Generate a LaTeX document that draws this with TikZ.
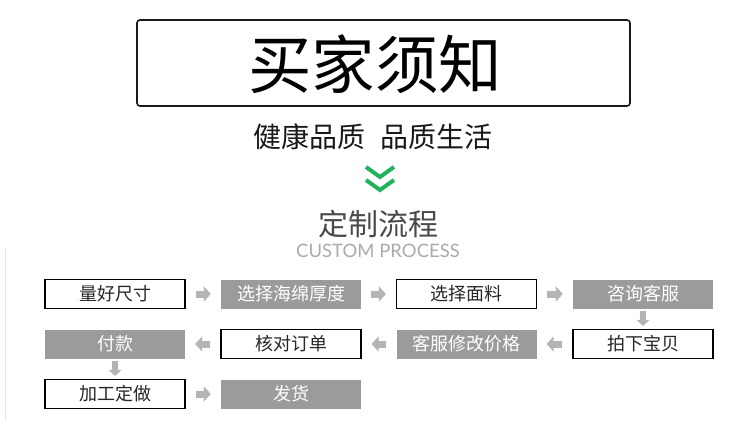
\documentclass[tikz,border=0pt]{standalone}
\usepackage{fontspec}
\newfontfamily\cjk{Noto Sans CJK SC}
\newfontfamily\latfont{Lato}
\usetikzlibrary{arrows.meta}
\definecolor{boxgray}{HTML}{9B9B9B}
\definecolor{arrgray}{HTML}{B4B4B4}
\definecolor{chevgreen}{HTML}{22B35A}
\definecolor{titlegray}{HTML}{4A4A4A}
\definecolor{subgray}{HTML}{ABABAB}
\definecolor{edgegray}{HTML}{E6E6E6}
\begin{document}
\begin{tikzpicture}[x=1pt,y=-1pt,
  wbox/.style={draw=black,line width=1.2pt,fill=white,minimum width=140pt,minimum height=29pt,inner sep=0pt,font=\cjk\fontsize{18}{18}\selectfont,text=black!85},
  gbox/.style={fill=boxgray,minimum width=140pt,minimum height=29pt,inner sep=0pt,font=\cjk\fontsize{18}{18}\selectfont,text=white},
  harr/.style={draw=arrgray,line width=7pt,-{Triangle[length=7pt,width=15pt]},shorten <=10pt,shorten >=10pt},
  varr/.style={draw=arrgray,line width=6pt,-{Triangle[length=6pt,width=13pt]},shorten <=2pt,shorten >=3pt}]
\useasboundingbox[fill=white] (0,0) rectangle (750,431);
% left faint line
\draw[edgegray,line width=1.2pt] (5.5,248) coordinate (ltop) -- (5.5,421) coordinate (lbot);
% title
\node[draw=black!90,line width=1.6pt,rounded corners=3pt,minimum width=493pt,minimum height=86pt,inner sep=0pt] (title) at (383.5,63) {};
\node[font=\cjk\fontsize{63.5}{63.5}\selectfont,text=black] (titletext) at (375,64) {买家须知};
\node[font=\cjk\fontsize{28}{28}\selectfont,text=black!90] (slogan) at (373,137) {健康品质\hspace{16pt}品质生活};
% chevrons
\draw[chevgreen,line width=4pt] (366,167) coordinate (c1a) -- (380,177) coordinate (c1b) -- (394,167) coordinate (c1c);
\draw[chevgreen,line width=4pt] (366,180) coordinate (c2a) -- (380,190) coordinate (c2b) -- (394,180) coordinate (c2c);
\node[font=\cjk\fontsize{30}{30}\selectfont,text=titlegray] (proc) at (378,224) {定制流程};
\node[font=\latfont\fontsize{18.5}{18.5}\selectfont,text=subgray] (procen) at (378,251) {CUSTOM PROCESS};
% row 1
\node[wbox] (b1) at (115,294) {量好尺寸};
\node[gbox] (b2) at (291,294) {选择海绵厚度};
\node[wbox] (b3) at (466.5,294) {选择面料};
\node[gbox] (b4) at (643,294) {咨询客服};
% row 2
\node[wbox] (b5) at (643,344) {拍下宝贝};
\node[gbox] (b6) at (466.5,344) {客服修改价格};
\node[wbox] (b7) at (291,344) {核对订单};
\node[gbox] (b8) at (115,344) {付款};
% row 3
\node[wbox] (b9) at (115,394) {加工定做};
\node[gbox] (b10) at (291,394) {发货};
% arrows
\draw[harr] (b1) -- (b2);
\draw[harr] (b2) -- (b3);
\draw[harr] (b3) -- (b4);
\draw[varr] (b4) -- (b5);
\draw[harr] (b5) -- (b6);
\draw[harr] (b6) -- (b7);
\draw[harr] (b7) -- (b8);
\draw[varr] (b8) -- (b9);
\draw[harr] (b9) -- (b10);
\end{tikzpicture}
\end{document}
